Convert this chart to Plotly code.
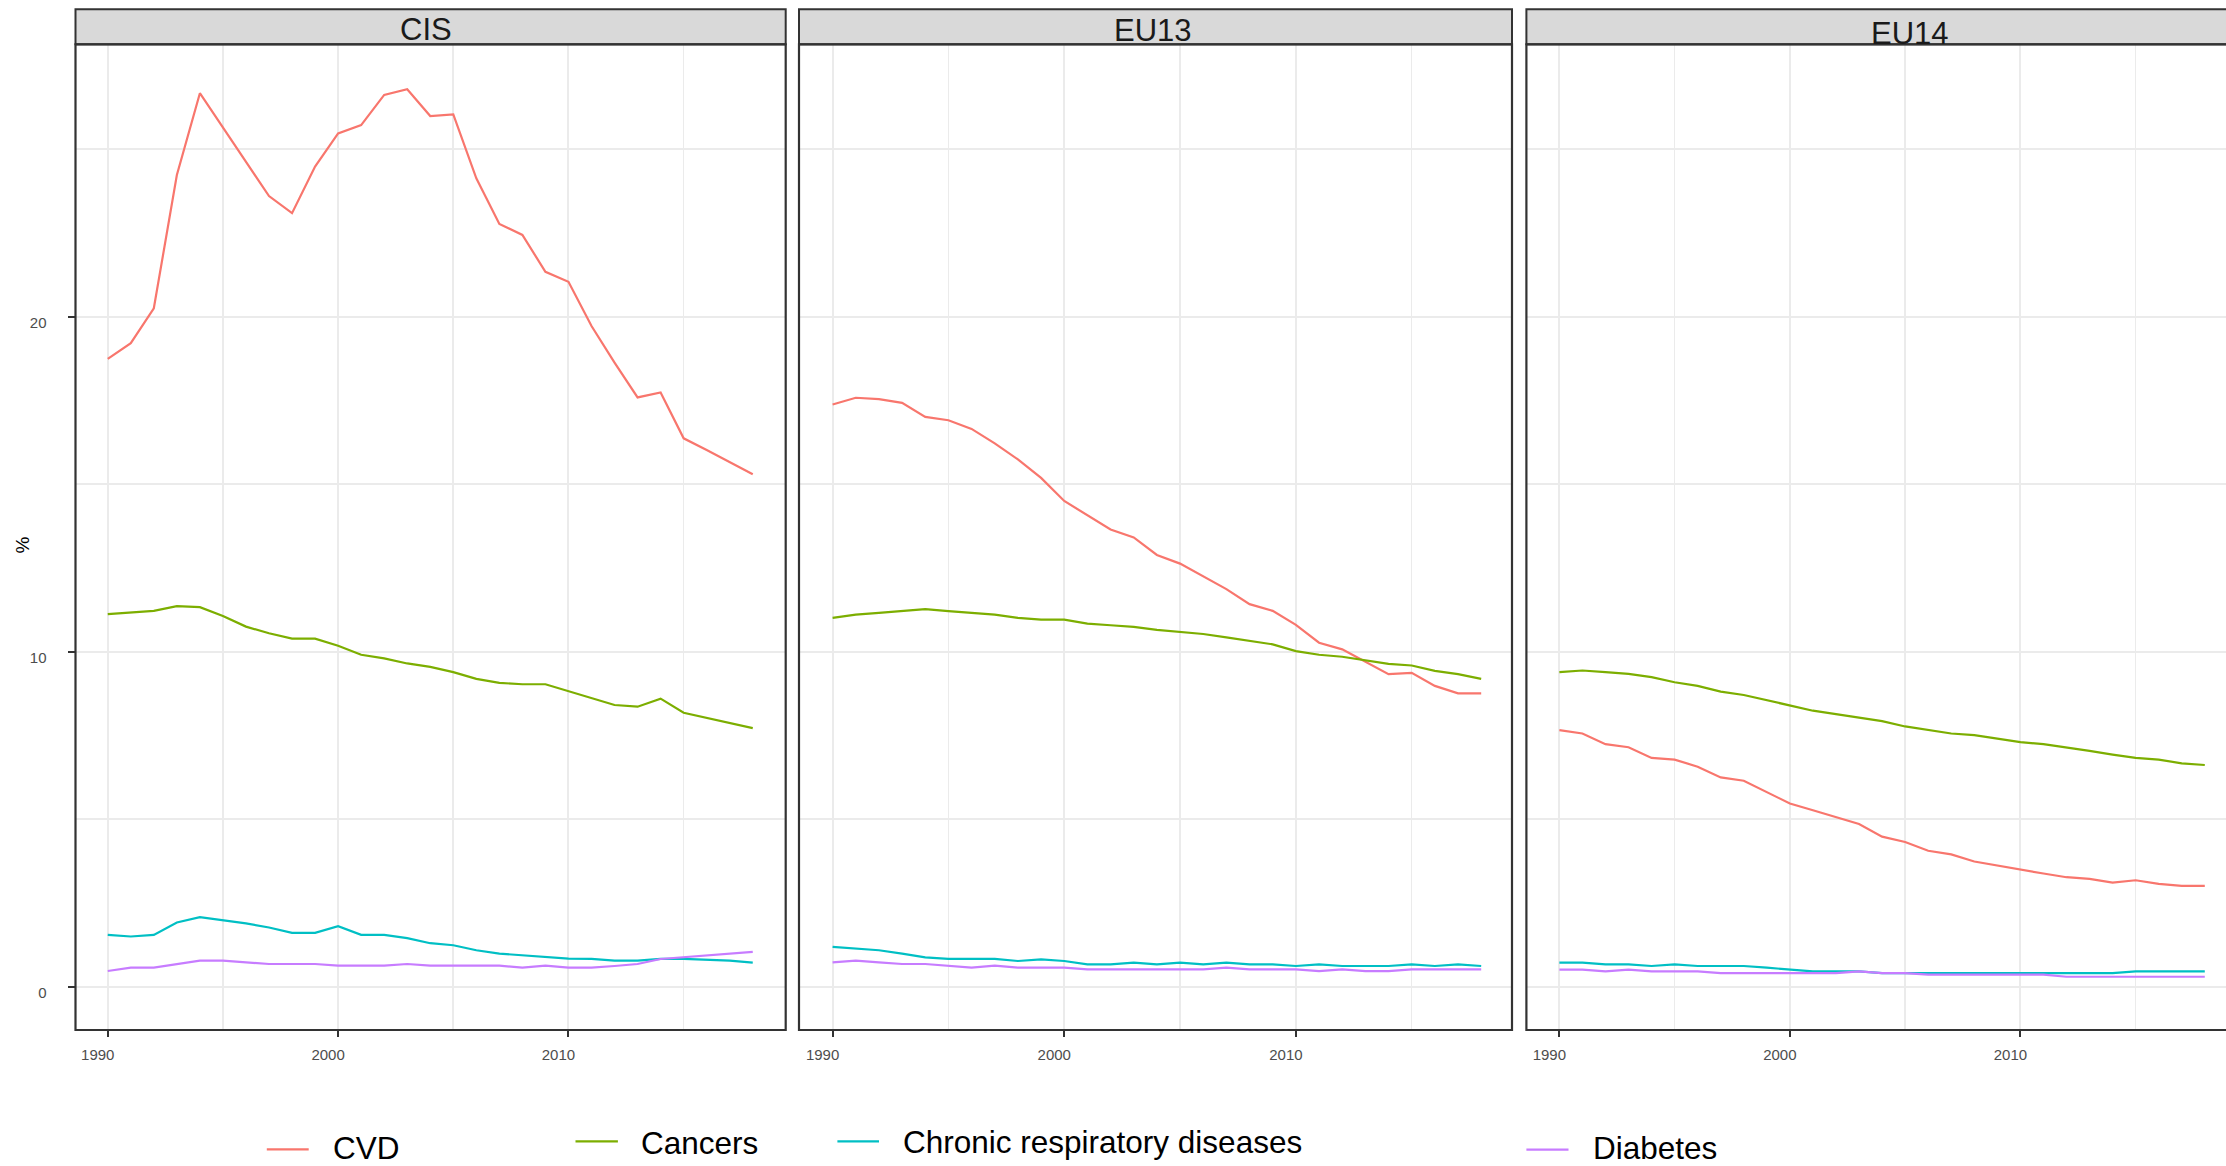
import plotly.graph_objects as go

# ---------------- data ----------------
years = list(range(1990, 2019))
regions = ["CIS", "EU13", "EU14"]
causes = ["CVD", "Cancers", "Chronic respiratory diseases", "Diabetes"]
colors = ["#F8766D", "#7CAE00", "#00BFC4", "#C77CFF"]

cis_cvd = [18.74, 19.21, 20.25, 24.23, 26.67, 25.64, 24.63, 23.60, 23.09, 24.48,
           25.47, 25.72, 26.62, 26.79, 25.99, 26.04, 24.13, 22.77, 22.44, 21.34,
           21.04, 19.72, 18.63, 17.59, 17.74, 16.37, 16.02, 15.65, 15.30]
cis_can = [11.12, 11.16, 11.22, 11.36, 11.33, 11.07, 10.75, 10.55, 10.39, 10.39,
           10.18, 9.91, 9.80, 9.65, 9.55, 9.39, 9.19, 9.07, 9.03, 9.03,
           8.83, 8.61, 8.41, 8.36, 8.60, 8.18, 8.03, 7.88, 7.72]
cis_crd = [1.55, 1.50, 1.55, 1.92, 2.08, 1.99, 1.89, 1.77, 1.61, 1.61,
           1.81, 1.55, 1.55, 1.45, 1.30, 1.24, 1.09, 0.99, 0.94, 0.89,
           0.84, 0.83, 0.78, 0.78, 0.83, 0.83, 0.80, 0.78, 0.72]
cis_dia = [0.47, 0.57, 0.57, 0.68, 0.78, 0.78, 0.73, 0.68, 0.68, 0.68,
           0.63, 0.63, 0.63, 0.68, 0.63, 0.63, 0.63, 0.63, 0.57, 0.63,
           0.57, 0.57, 0.62, 0.68, 0.83, 0.88, 0.93, 0.98, 1.04]

eu13_cvd = [17.38, 17.58, 17.54, 17.43, 17.01, 16.91, 16.65, 16.22, 15.74, 15.19,
            14.50, 14.08, 13.65, 13.41, 12.89, 12.63, 12.24, 11.87, 11.42, 11.22,
            10.80, 10.27, 10.07, 9.70, 9.33, 9.37, 8.98, 8.76, 8.76]
eu13_can = [11.01, 11.11, 11.16, 11.21, 11.27, 11.21, 11.16, 11.11, 11.01, 10.96,
            10.96, 10.84, 10.79, 10.74, 10.65, 10.60, 10.53, 10.43, 10.33, 10.22,
            10.02, 9.91, 9.85, 9.75, 9.64, 9.59, 9.43, 9.33, 9.19]
eu13_crd = [1.19, 1.15, 1.09, 0.99, 0.88, 0.83, 0.83, 0.83, 0.77, 0.82,
            0.77, 0.67, 0.67, 0.72, 0.67, 0.72, 0.67, 0.72, 0.67, 0.67,
            0.62, 0.67, 0.62, 0.62, 0.62, 0.67, 0.62, 0.67, 0.62]
eu13_dia = [0.73, 0.78, 0.73, 0.68, 0.68, 0.63, 0.57, 0.63, 0.57, 0.57,
            0.57, 0.52, 0.52, 0.52, 0.52, 0.52, 0.52, 0.57, 0.52, 0.52,
            0.52, 0.47, 0.52, 0.47, 0.47, 0.52, 0.52, 0.52, 0.52]

eu14_cvd = [7.66, 7.56, 7.24, 7.15, 6.83, 6.78, 6.57, 6.25, 6.15, 5.82,
            5.47, 5.27, 5.07, 4.86, 4.48, 4.32, 4.06, 3.95, 3.74, 3.62,
            3.48, 3.38, 3.27, 3.22, 3.11, 3.18, 3.07, 3.01, 3.01]
eu14_can = [9.39, 9.44, 9.39, 9.34, 9.24, 9.09, 8.98, 8.81, 8.71, 8.56,
            8.40, 8.24, 8.14, 8.03, 7.93, 7.77, 7.67, 7.56, 7.51, 7.40,
            7.30, 7.24, 7.15, 7.04, 6.93, 6.83, 6.78, 6.67, 6.62]
eu14_crd = [0.72, 0.72, 0.67, 0.67, 0.62, 0.67, 0.62, 0.62, 0.62, 0.57,
            0.52, 0.46, 0.46, 0.46, 0.41, 0.41, 0.41, 0.41, 0.41, 0.41,
            0.41, 0.41, 0.41, 0.41, 0.41, 0.46, 0.46, 0.46, 0.46]
eu14_dia = [0.51, 0.51, 0.46, 0.51, 0.46, 0.46, 0.46, 0.41, 0.41, 0.41,
            0.41, 0.41, 0.41, 0.46, 0.41, 0.41, 0.36, 0.36, 0.36, 0.36,
            0.36, 0.36, 0.30, 0.30, 0.30, 0.30, 0.30, 0.30, 0.30]

series = {
    "CIS": [cis_cvd, cis_can, cis_crd, cis_dia],
    "EU13": [eu13_cvd, eu13_can, eu13_crd, eu13_dia],
    "EU14": [eu14_cvd, eu14_can, eu14_crd, eu14_dia],
}

x_ticks = [1990, 2000, 2010]
y_ticks = [0, 10, 20]

# ---------------- layout geometry (pixels) ----------------
W, H = 2226, 1166
def fx(px):
    return px / W
def fy(py):
    return 1 - py / H

panel_x = [(75.5, 785.7), (799.0, 1512.0), (1526.4, 2237.5)]
panel_top, panel_bot = 44.3, 1030.0
strip_top = 9.3
x_ranges = [[1988.6, 2019.43], [1988.55, 2019.33], [1988.57, 2018.92]]
y_range = [-1.29, 28.13]

GRID = "#EBEBEB"
BORDER = "#333333"
TICKTXT = "#4D4D4D"
FONT = "Liberation Sans, Arial, sans-serif"

fig = go.Figure()
for i, reg in enumerate(regions):
    xa = "x" if i == 0 else f"x{i+1}"
    ya = "y" if i == 0 else f"y{i+1}"
    for j, cause in enumerate(causes):
        fig.add_trace(go.Scatter(
            x=years, y=series[reg][j], mode="lines", name=cause,
            line=dict(color=colors[j], width=2.2),
            xaxis=xa, yaxis=ya, showlegend=False, hoverinfo="skip"))

layout = dict(
    width=W, height=H,
    margin=dict(l=0, r=0, t=0, b=0),
    paper_bgcolor="white", plot_bgcolor="white",
    font=dict(family=FONT, color=TICKTXT),
    showlegend=False,
)

for i in range(3):
    sx = "" if i == 0 else str(i + 1)
    x0, x1 = panel_x[i]
    dom_x = [fx(x0), min(1.0, fx(x1))]
    layout["xaxis" + sx] = dict(
        domain=dom_x, range=x_ranges[i], anchor="y" + sx,
        tickmode="array", tickvals=x_ticks, ticktext=[str(v) for v in x_ticks],
        ticks="outside", ticklen=6, tickwidth=2, tickcolor=BORDER,
        tickfont=dict(size=15, color=TICKTXT, family=FONT),
        ticklabelshift=-10, ticklabelstandoff=5,
        showgrid=True, gridcolor=GRID, gridwidth=2,
        minor=dict(tickmode="array", tickvals=[1995, 2005, 2015],
                   showgrid=True, gridcolor=GRID, gridwidth=1.6, ticks=""),
        showline=False, zeroline=False, fixedrange=True,
    )
    layout["yaxis" + sx] = dict(
        domain=[fy(panel_bot), fy(panel_top)], range=y_range, anchor="x" + sx,
        tickmode="array", tickvals=y_ticks, ticktext=[str(v) for v in y_ticks],
        ticks="outside" if i == 0 else "", ticklen=7, tickwidth=2, tickcolor=BORDER,
        showticklabels=(i == 0),
        tickfont=dict(size=15, color=TICKTXT, family=FONT),
        ticklabelshift=6, ticklabelstandoff=18,
        showgrid=True, gridcolor=GRID, gridwidth=2,
        minor=dict(tickmode="array", tickvals=[5, 15, 25],
                   showgrid=True, gridcolor=GRID, gridwidth=1.6, ticks=""),
        showline=False, zeroline=False, fixedrange=True,
    )

shapes = []
# strips
for i in range(3):
    x0, x1 = panel_x[i]
    if i == 2:
        x1 = 2262
    shapes.append(dict(type="rect", xref="paper", yref="paper",
                       x0=fx(x0), x1=fx(x1), y0=fy(panel_top), y1=fy(strip_top),
                       fillcolor="#D9D9D9", line=dict(color=BORDER, width=2), layer="above"))
# panel borders
for i in range(2):
    x0, x1 = panel_x[i]
    shapes.append(dict(type="rect", xref="paper", yref="paper",
                       x0=fx(x0), x1=fx(x1), y0=fy(panel_bot), y1=fy(panel_top),
                       line=dict(color=BORDER, width=2.2), layer="above"))
x0 = panel_x[2][0]
shapes.append(dict(type="path", xref="paper", yref="paper",
                   path=f"M {fx(2262)},{fy(panel_top)} L {fx(x0)},{fy(panel_top)} "
                        f"L {fx(x0)},{fy(panel_bot)} L {fx(2262)},{fy(panel_bot)}",
                   line=dict(color=BORDER, width=2.2), layer="above"))

annotations = []
# strip labels
strip_pos = [(426, 29.0), (1152.5, 31.0), (1909.7, 33.5)]
for reg, (sx_, sy_) in zip(regions, strip_pos):
    annotations.append(dict(text=reg, xref="paper", yref="paper",
                            x=fx(sx_), y=fy(sy_), xanchor="center", yanchor="middle",
                            showarrow=False, font=dict(size=31, color="#1A1A1A", family=FONT)))
# y title
annotations.append(dict(text="%", xref="paper", yref="paper", x=fx(21.6), y=fy(545),
                        xanchor="center", yanchor="middle", textangle=-90, showarrow=False,
                        font=dict(size=19, color="black", family=FONT)))

# legend (manual, as laid out in the original)
legend_key = [(266.8, 308.7, 1149.3), (575.5, 617.9, 1141.3),
              (837.4, 879.0, 1141.3), (1526.4, 1568.5, 1149.7)]
legend_txt = [(330.6, 1147.5), (638.8, 1142.5), (901.0, 1142.0), (1591.0, 1147.5)]
for j, cause in enumerate(causes):
    a, b, yy = legend_key[j]
    shapes.append(dict(type="line", xref="paper", yref="paper",
                       x0=fx(a), x1=fx(b), y0=fy(yy), y1=fy(yy),
                       line=dict(color=colors[j], width=2.3)))
    tx, ty = legend_txt[j]
    annotations.append(dict(text=cause, xref="paper", yref="paper", x=fx(tx), y=fy(ty),
                            xanchor="left", yanchor="middle", showarrow=False,
                            font=dict(size=31.5, color="black", family=FONT)))

layout["shapes"] = shapes
layout["annotations"] = annotations
fig.update_layout(**layout)

fig.write_html("out.html", config={"displayModeBar": False, "staticPlot": True},
               post_script="document.body.style.margin='0';document.body.style.overflow='hidden';")
